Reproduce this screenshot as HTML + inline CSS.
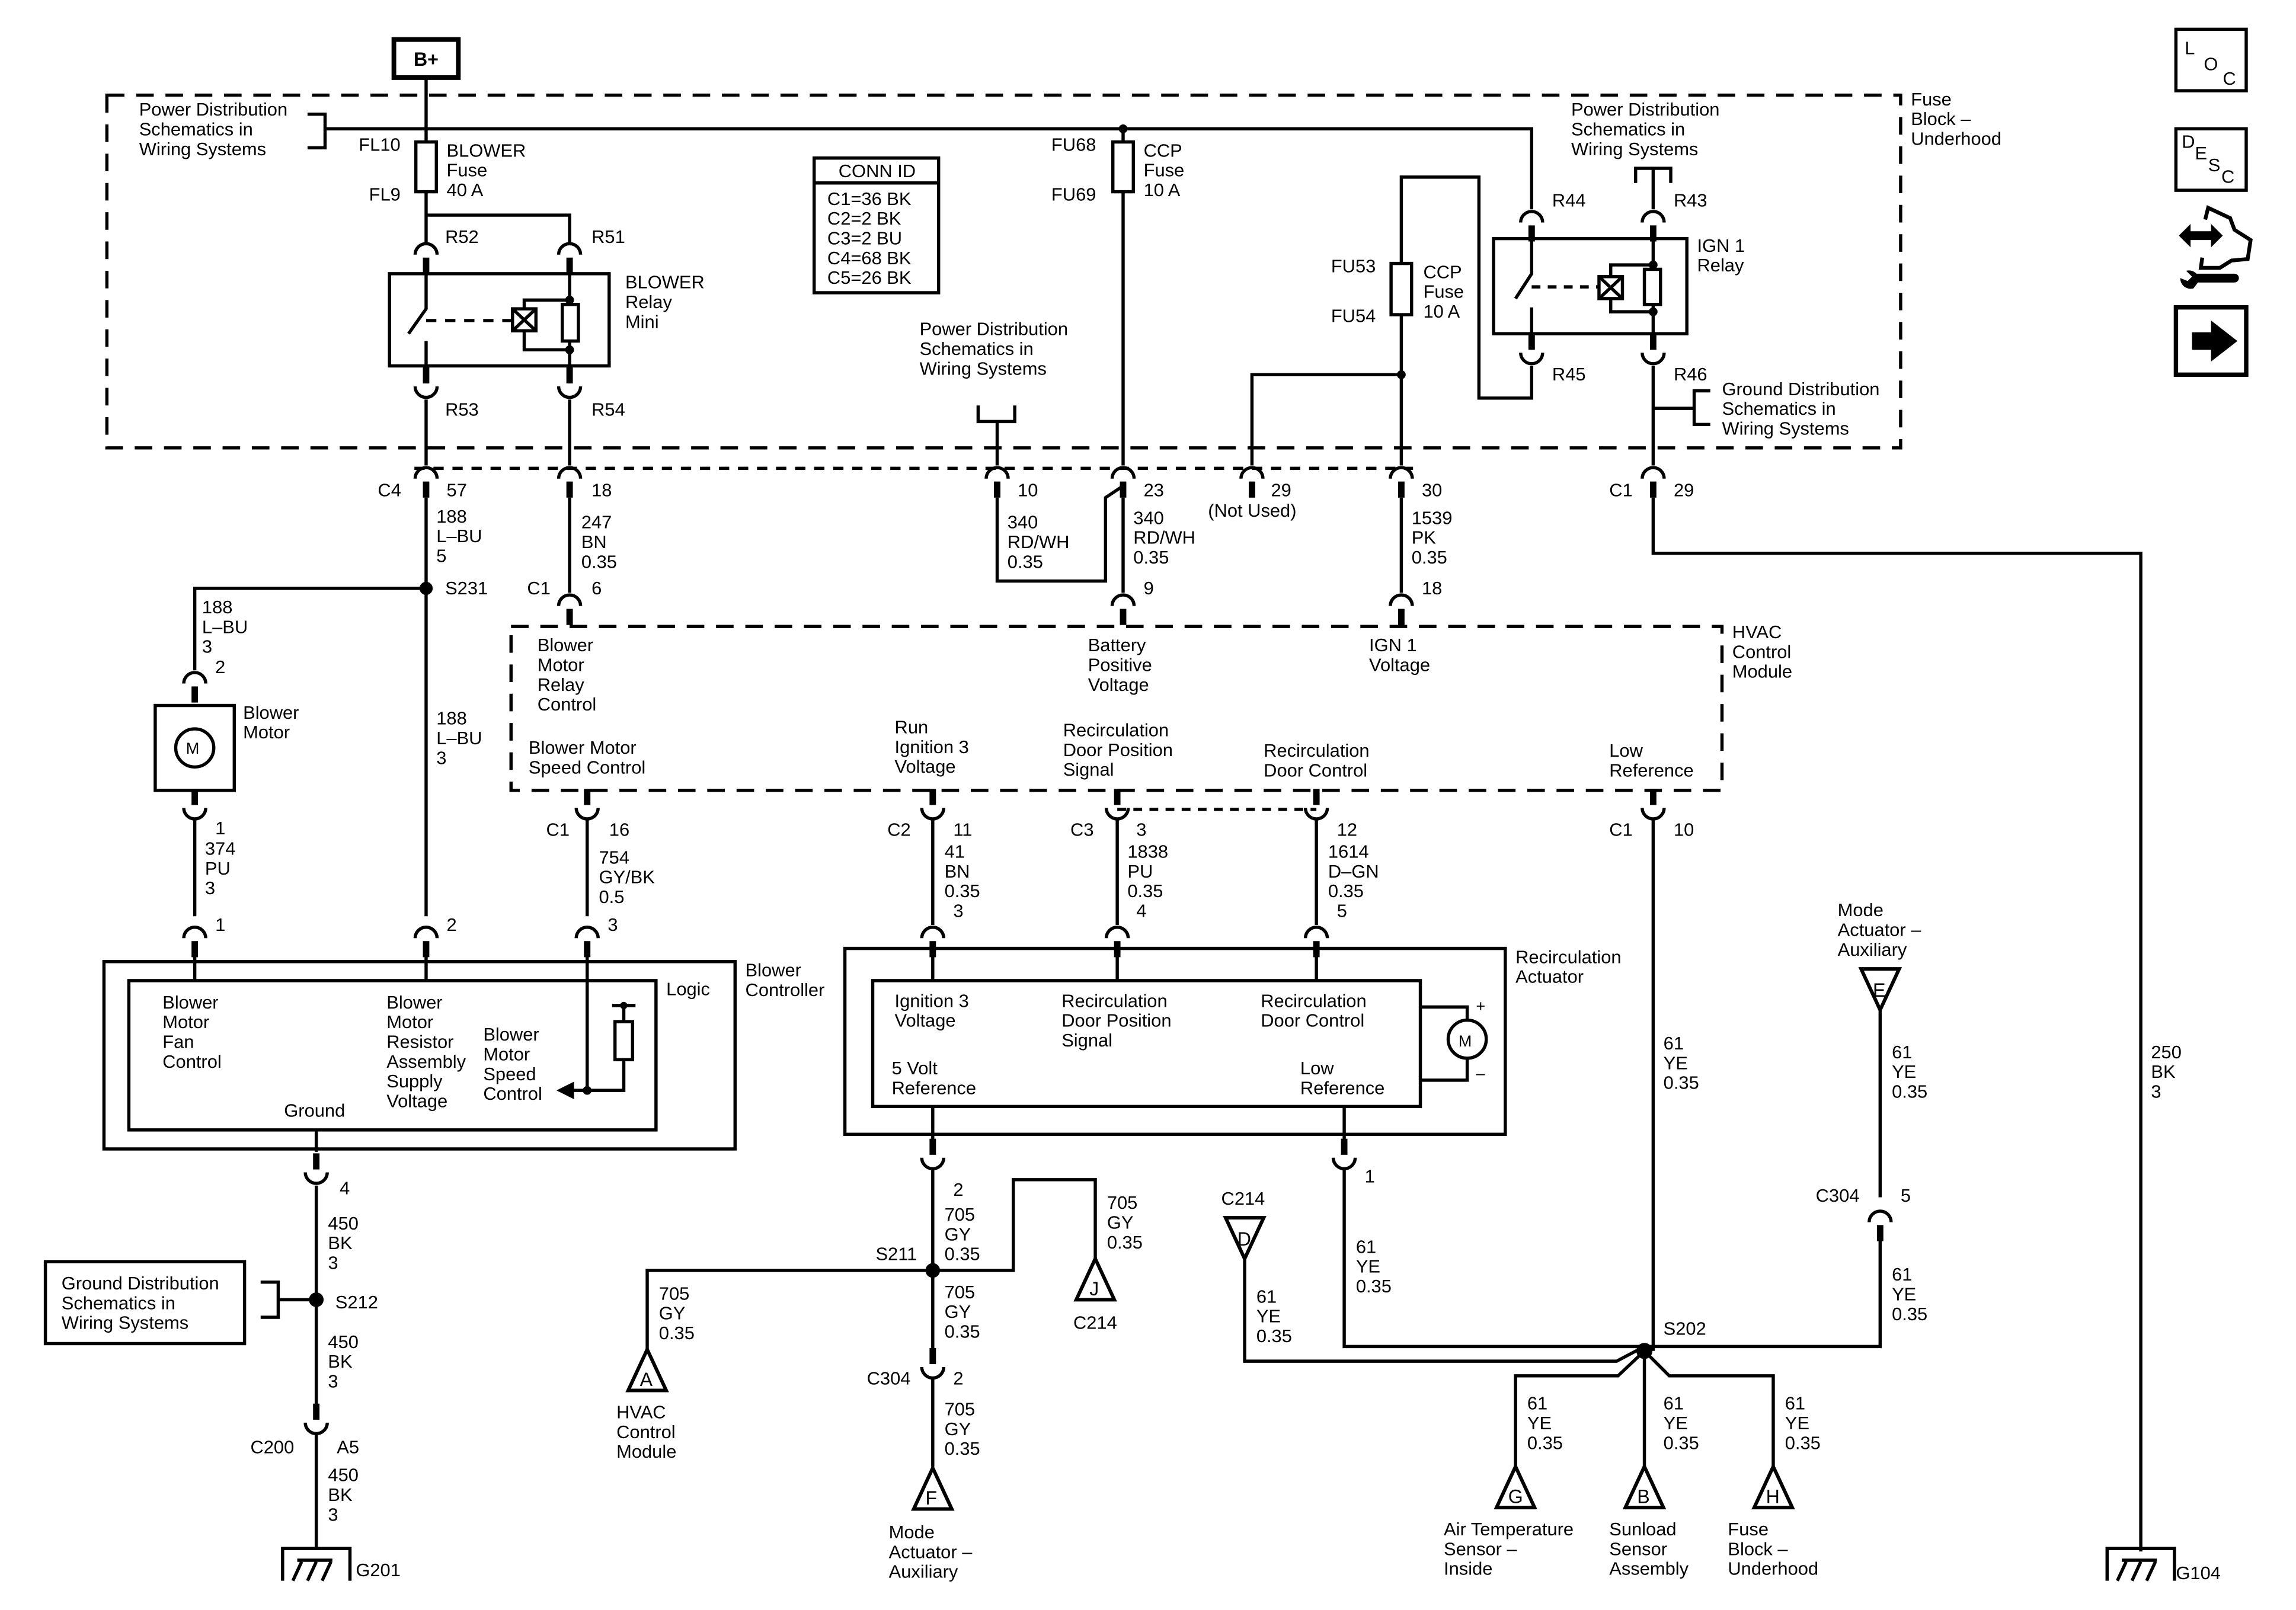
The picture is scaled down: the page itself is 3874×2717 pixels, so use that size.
<!DOCTYPE html>
<html><head><meta charset="utf-8"><style>
html,body{margin:0;padding:0;background:#fff}
svg{display:block}
text{font-family:"Liberation Sans",Arial,sans-serif;font-size:12.5px;fill:#000}
</style></head><body>
<svg width="3874" height="2717" viewBox="0 0 1568 1100" preserveAspectRatio="none" xmlns="http://www.w3.org/2000/svg">
<defs>
<g id="dn"><path d="M-7.5 1 A7.5 7.5 0 0 1 7.5 1" fill="none" stroke="#000" stroke-width="2.2"/><rect x="-2.2" y="3" width="4.4" height="11"/></g>
<g id="up"><path d="M-7.5 -1 A7.5 7.5 0 0 0 7.5 -1" fill="none" stroke="#000" stroke-width="2.2"/><rect x="-2.2" y="-14" width="4.4" height="11"/></g>
<g id="tu"><path d="M0 0 L13 28 L-13 28 Z" fill="#fff" stroke="#000" stroke-width="2.4"/></g>
<g id="td"><path d="M0 0 L13 -28 L-13 -28 Z" fill="#fff" stroke="#000" stroke-width="2.4"/></g>
<g id="gnd"><path d="M-23 22 V0 H23 V22 M-13 8 H11 M-10 9 L-16 22 M0 9 L-6 22 M10 9 L4 22" fill="none" stroke="#000" stroke-width="2.2"/></g>
</defs>
<rect width="1568" height="1100" fill="#fff"/>
<g fill="none" stroke="#000" stroke-width="2.2">
<rect x="73" y="65" width="1225" height="241" stroke-dasharray="12,8"/>
<rect x="269" y="27" width="44" height="26" stroke-width="3.2"/>
<path d="M291 53 V97 M291 131 V167 M291 147 H389 V167"/>
<rect x="284" y="97" width="14" height="34"/>
<path d="M210 78 H222 V101 H210 M222 88 H1046 V143"/>
<rect x="266" y="187" width="150" height="63"/>
<path d="M291 187 V211 L279 228 M291 233 V250" />
<path d="M291 219 H350" stroke-dasharray="7,6"/>
<rect x="350" y="211" width="16" height="15"/>
<path d="M350 211 L366 226 M366 211 L350 226 M358 211 V205 H389 M358 226 V239 H389 M389 187 V250"/>
<rect x="384" y="208" width="11" height="25" fill="#fff"/>
<path d="M291 273 V318 M389 273 V318"/>
<rect x="556" y="108" width="85" height="92"/>
<path d="M556 125 H641"/>
<rect x="760" y="97" width="14" height="34"/>
<path d="M767 88 V97 M767 131 V318"/>
<path d="M668 277 V288 H693 V277 M681 288 V318"/>
<rect x="950" y="180" width="14" height="35"/>
<path d="M957 180 V121 H1010 V272 H1046 V250 M957 215 V318 M957 256 H855 V318"/>
<rect x="1020" y="163" width="132" height="65"/>
<path d="M1046 163 V187 L1035 204 M1046 210 V228" />
<path d="M1046 196 H1092" stroke-dasharray="6,5"/>
<rect x="1092" y="189" width="16" height="15"/>
<path d="M1092 189 L1108 204 M1108 189 L1092 204 M1100 189 V181 H1129 M1100 204 V213 H1129 M1129 163 V228"/>
<rect x="1123" y="184" width="11" height="24" fill="#fff"/>
<path d="M1117 125 V115 H1141 V125 M1129 115 V143"/>
<path d="M1129 250 V318 M1168 267 H1157 V290 H1168 M1129 279 H1157"/>
<path d="M283 320 H965" stroke-dasharray="7,6"/>
<path d="M291 340 V626 M291 402 H133 V458 M389 340 V405 M681 340 V397 H755 V340 L767 332 M767 340 V405 M957 340 V405 M1129 340 V378 H1462 V1060"/>
<rect x="349" y="428" width="827" height="112" stroke-dasharray="12,8"/>
<path d="M763 553 H899" stroke-dasharray="6,5"/>
<rect x="106" y="482" width="54" height="58"/>
<circle cx="133" cy="511" r="13"/>
<path d="M133 560 V626 M401 560 V626 M637 560 V632 M763 560 V632 M899 560 V632 M1129 560 V923"/>
<rect x="71" y="657" width="431" height="128"/>
<rect x="88" y="670" width="360" height="102"/>
<path d="M133 653 V670 M291 653 V670 M401 653 V745 H426 V724 M426 698 V687 M418 687 H434 M401 745 H390"/>
<rect x="420" y="698" width="12" height="26"/>
<path d="M216 772 V787 M216 810 V960 M178 876 H190 V900 H178 M190 888 H216 M216 980 V1058"/>
<rect x="31" y="862" width="136" height="56"/>
<rect x="577" y="648" width="451" height="127"/>
<rect x="596" y="670" width="374" height="86"/>
<path d="M637 653 V670 M763 653 V670 M899 653 V670 M970 688 H1002 V697 M1002 723 V738 H970"/>
<circle cx="1002" cy="710" r="13"/>
<path d="M637 756 V779 M918 756 V779 M637 798 V922 M637 942 V1002 M637 868 H692 V806 H748 V860 M637 868 H442 V922 M918 798 V920 H1123 M850 860 V930 H1104 L1123 920 M1123 923 L1105 940 H1035 V1002 M1123 923 V1002 M1123 923 L1140 940 H1211 V1002 M1284 690 V818 M1284 842 V920 H1123"/>
<rect x="1486" y="20" width="48" height="42"/>
<rect x="1486" y="88" width="48" height="42"/>
<rect x="1486" y="210" width="48" height="46" stroke-width="3"/>
<path d="M1506 150 L1508 142 L1523 149 L1526 157 L1537 164 L1535 177 L1524 178 L1516 183 L1503 183 L1504 176" stroke-width="2.6"/>
</g>
<g>
<path d="M1488 161 L1496 153 V158 H1510 V153 L1518 161 L1510 169 V164 H1496 V169 Z"/>
<path d="M1500 187 H1526 A3 3 0 0 1 1526 193 H1501 L1498 197 A7 7 0 0 1 1489 190 L1494 192 L1497 189 L1493 185 A7 7 0 0 1 1500 187 Z"/>
<path d="M1497 227 H1510 V219 L1528 233 L1510 247 V239 H1497 Z"/>
<circle cx="291" cy="402" r="4.5"/><circle cx="216" cy="888" r="5"/><circle cx="637" cy="868" r="5"/><circle cx="1123" cy="923" r="5.5"/>
<circle cx="767" cy="88" r="3"/><circle cx="957" cy="256" r="3"/><circle cx="389" cy="205" r="3"/><circle cx="389" cy="239" r="3"/><circle cx="1129" cy="181" r="3"/><circle cx="1129" cy="213" r="3"/><circle cx="401" cy="745" r="3"/><circle cx="426" cy="687" r="2.5"/>
<path d="M380 745 L392 739 V751 Z"/>
<use href="#dn" x="291" y="173"/><use href="#dn" x="389" y="173"/>
<use href="#up" x="291" y="265"/><use href="#up" x="389" y="265"/>
<use href="#dn" x="1046" y="151"/><use href="#dn" x="1129" y="151"/>
<use href="#up" x="1046" y="242"/><use href="#up" x="1129" y="242"/>
<use href="#dn" x="291" y="326"/><use href="#dn" x="389" y="326"/><use href="#dn" x="681" y="326"/><use href="#dn" x="767" y="326"/><use href="#dn" x="855" y="326"/><use href="#dn" x="957" y="326"/><use href="#dn" x="1129" y="326"/>
<use href="#dn" x="389" y="413"/><use href="#dn" x="767" y="413"/><use href="#dn" x="957" y="413"/>
<use href="#dn" x="133" y="466"/><use href="#up" x="133" y="553"/>
<use href="#up" x="401" y="553"/><use href="#up" x="637" y="553"/><use href="#up" x="763" y="553"/><use href="#up" x="899" y="553"/><use href="#up" x="1129" y="553"/>
<use href="#dn" x="133" y="640"/><use href="#dn" x="291" y="640"/><use href="#dn" x="401" y="640"/>
<use href="#dn" x="637" y="640"/><use href="#dn" x="763" y="640"/><use href="#dn" x="899" y="640"/>
<use href="#up" x="637" y="792"/><use href="#up" x="918" y="792"/>
<use href="#up" x="216" y="802"/><use href="#up" x="216" y="973"/>
<use href="#up" x="637" y="935"/><use href="#dn" x="1284" y="834"/>
<use href="#tu" x="637" y="1003"/><use href="#tu" x="748" y="860"/><use href="#tu" x="442" y="922"/>
<use href="#tu" x="1035" y="1002"/><use href="#tu" x="1123" y="1002"/><use href="#tu" x="1211" y="1002"/>
<use href="#td" x="850" y="860"/><use href="#td" x="1284" y="690"/>
<use href="#gnd" x="216" y="1058"/><use href="#gnd" x="1462" y="1058"/>
</g>
<g>
<text x="291" y="45" text-anchor="middle" font-weight="bold" style="font-size:13px">B+</text>
<text x="95" y="79">Power Distribution<tspan x="95" dy="13.5">Schematics in</tspan><tspan x="95" dy="13.5">Wiring Systems</tspan></text>
<text x="245" y="103">FL10</text><text x="252" y="137">FL9</text>
<text x="305" y="107">BLOWER<tspan x="305" dy="13.5">Fuse</tspan><tspan x="305" dy="13.5">40 A</tspan></text>
<text x="304" y="166">R52</text><text x="404" y="166">R51</text>
<text x="427" y="197">BLOWER<tspan x="427" dy="13.5">Relay</tspan><tspan x="427" dy="13.5">Mini</tspan></text>
<text x="304" y="284">R53</text><text x="404" y="284">R54</text>
<text x="599" y="121" text-anchor="middle">CONN ID</text>
<text x="565" y="140">C1=36 BK<tspan x="565" dy="13.5">C2=2 BK</tspan><tspan x="565" dy="13.5">C3=2 BU</tspan><tspan x="565" dy="13.5">C4=68 BK</tspan><tspan x="565" dy="13.5">C5=26 BK</tspan></text>
<text x="718" y="103">FU68</text><text x="718" y="137">FU69</text>
<text x="781" y="107">CCP<tspan x="781" dy="13.5">Fuse</tspan><tspan x="781" dy="13.5">10 A</tspan></text>
<text x="628" y="229">Power Distribution<tspan x="628" dy="13.5">Schematics in</tspan><tspan x="628" dy="13.5">Wiring Systems</tspan></text>
<text x="909" y="186">FU53</text><text x="909" y="220">FU54</text>
<text x="972" y="190">CCP<tspan x="972" dy="13.5">Fuse</tspan><tspan x="972" dy="13.5">10 A</tspan></text>
<text x="1073" y="79">Power Distribution<tspan x="1073" dy="13.5">Schematics in</tspan><tspan x="1073" dy="13.5">Wiring Systems</tspan></text>
<text x="1305" y="72">Fuse<tspan x="1305" dy="13.5">Block –</tspan><tspan x="1305" dy="13.5">Underhood</tspan></text>
<text x="1060" y="141">R44</text><text x="1143" y="141">R43</text>
<text x="1159" y="172">IGN 1<tspan x="1159" dy="13.5">Relay</tspan></text>
<text x="1060" y="260">R45</text><text x="1143" y="260">R46</text>
<text x="1176" y="270">Ground Distribution<tspan x="1176" dy="13.5">Schematics in</tspan><tspan x="1176" dy="13.5">Wiring Systems</tspan></text>
<text x="258" y="339">C4</text><text x="305" y="339">57</text><text x="404" y="339">18</text><text x="695" y="339">10</text><text x="781" y="339">23</text><text x="868" y="339">29</text><text x="825" y="353">(Not Used)</text><text x="971" y="339">30</text><text x="1099" y="339">C1</text><text x="1143" y="339">29</text>
<text x="298" y="357">188<tspan x="298" dy="13.5">L–BU</tspan><tspan x="298" dy="13.5">5</tspan></text>
<text x="397" y="361">247<tspan x="397" dy="13.5">BN</tspan><tspan x="397" dy="13.5">0.35</tspan></text>
<text x="688" y="361">340<tspan x="688" dy="13.5">RD/WH</tspan><tspan x="688" dy="13.5">0.35</tspan></text>
<text x="774" y="358">340<tspan x="774" dy="13.5">RD/WH</tspan><tspan x="774" dy="13.5">0.35</tspan></text>
<text x="964" y="358">1539<tspan x="964" dy="13.5">PK</tspan><tspan x="964" dy="13.5">0.35</tspan></text>
<text x="1469" y="723">250<tspan x="1469" dy="13.5">BK</tspan><tspan x="1469" dy="13.5">3</tspan></text>
<text x="304" y="406">S231</text><text x="360" y="406">C1</text><text x="404" y="406">6</text><text x="781" y="406">9</text><text x="971" y="406">18</text>
<text x="138" y="419">188<tspan x="138" dy="13.5">L–BU</tspan><tspan x="138" dy="13.5">3</tspan></text>
<text x="147" y="460">2</text>
<text x="166" y="491">Blower<tspan x="166" dy="13.5">Motor</tspan></text>
<text x="127" y="515" style="font-size:11px">M</text>
<text x="298" y="495">188<tspan x="298" dy="13.5">L–BU</tspan><tspan x="298" dy="13.5">3</tspan></text>
<text x="367" y="445">Blower<tspan x="367" dy="13.5">Motor</tspan><tspan x="367" dy="13.5">Relay</tspan><tspan x="367" dy="13.5">Control</tspan></text>
<text x="743" y="445">Battery<tspan x="743" dy="13.5">Positive</tspan><tspan x="743" dy="13.5">Voltage</tspan></text>
<text x="935" y="445">IGN 1<tspan x="935" dy="13.5">Voltage</tspan></text>
<text x="1183" y="436">HVAC<tspan x="1183" dy="13.5">Control</tspan><tspan x="1183" dy="13.5">Module</tspan></text>
<text x="361" y="515">Blower Motor<tspan x="361" dy="13.5">Speed Control</tspan></text>
<text x="611" y="501">Run<tspan x="611" dy="13.5">Ignition 3</tspan><tspan x="611" dy="13.5">Voltage</tspan></text>
<text x="726" y="503">Recirculation<tspan x="726" dy="13.5">Door Position</tspan><tspan x="726" dy="13.5">Signal</tspan></text>
<text x="863" y="517">Recirculation<tspan x="863" dy="13.5">Door Control</tspan></text>
<text x="1099" y="517">Low<tspan x="1099" dy="13.5">Reference</tspan></text>
<text x="147" y="570">1</text>
<text x="140" y="584">374<tspan x="140" dy="13.5">PU</tspan><tspan x="140" dy="13.5">3</tspan></text>
<text x="373" y="571">C1</text><text x="416" y="571">16</text><text x="606" y="571">C2</text><text x="651" y="571">11</text><text x="731" y="571">C3</text><text x="776" y="571">3</text><text x="913" y="571">12</text><text x="1099" y="571">C1</text><text x="1143" y="571">10</text>
<text x="409" y="590">754<tspan x="409" dy="13.5">GY/BK</tspan><tspan x="409" dy="13.5">0.5</tspan></text>
<text x="645" y="586">41<tspan x="645" dy="13.5">BN</tspan><tspan x="645" dy="13.5">0.35</tspan><tspan x="651" dy="13.5">3</tspan></text>
<text x="770" y="586">1838<tspan x="770" dy="13.5">PU</tspan><tspan x="770" dy="13.5">0.35</tspan><tspan x="776" dy="13.5">4</tspan></text>
<text x="907" y="586">1614<tspan x="907" dy="13.5">D–GN</tspan><tspan x="907" dy="13.5">0.35</tspan><tspan x="913" dy="13.5">5</tspan></text>
<text x="147" y="636">1</text><text x="305" y="636">2</text><text x="415" y="636">3</text>
<text x="111" y="689">Blower<tspan x="111" dy="13.5">Motor</tspan><tspan x="111" dy="13.5">Fan</tspan><tspan x="111" dy="13.5">Control</tspan></text>
<text x="264" y="689">Blower<tspan x="264" dy="13.5">Motor</tspan><tspan x="264" dy="13.5">Resistor</tspan><tspan x="264" dy="13.5">Assembly</tspan><tspan x="264" dy="13.5">Supply</tspan><tspan x="264" dy="13.5">Voltage</tspan></text>
<text x="330" y="711">Blower<tspan x="330" dy="13.5">Motor</tspan><tspan x="330" dy="13.5">Speed</tspan><tspan x="330" dy="13.5">Control</tspan></text>
<text x="194" y="763">Ground</text>
<text x="455" y="680">Logic</text>
<text x="509" y="667">Blower<tspan x="509" dy="13.5">Controller</tspan></text>
<text x="1255" y="626">Mode<tspan x="1255" dy="13.5">Actuator –</tspan><tspan x="1255" dy="13.5">Auxiliary</tspan></text>
<text x="1035" y="658">Recirculation<tspan x="1035" dy="13.5">Actuator</tspan></text>
<text x="611" y="688">Ignition 3<tspan x="611" dy="13.5">Voltage</tspan></text>
<text x="725" y="688">Recirculation<tspan x="725" dy="13.5">Door Position</tspan><tspan x="725" dy="13.5">Signal</tspan></text>
<text x="861" y="688">Recirculation<tspan x="861" dy="13.5">Door Control</tspan></text>
<text x="609" y="734">5 Volt<tspan x="609" dy="13.5">Reference</tspan></text>
<text x="888" y="734">Low<tspan x="888" dy="13.5">Reference</tspan></text>
<text x="1008" y="691" style="font-size:11px">+</text><text x="1008" y="737" style="font-size:11px">–</text>
<text x="996" y="715" style="font-size:11px">M</text>
<text x="1136" y="717">61<tspan x="1136" dy="13.5">YE</tspan><tspan x="1136" dy="13.5">0.35</tspan></text>
<text x="1292" y="723">61<tspan x="1292" dy="13.5">YE</tspan><tspan x="1292" dy="13.5">0.35</tspan></text>
<text x="1279" y="681" style="font-size:13px">E</text>
<text x="232" y="816">4</text><text x="651" y="817">2</text><text x="932" y="808">1</text>
<text x="224" y="840">450<tspan x="224" dy="13.5">BK</tspan><tspan x="224" dy="13.5">3</tspan></text>
<text x="645" y="834">705<tspan x="645" dy="13.5">GY</tspan><tspan x="645" dy="13.5">0.35</tspan></text>
<text x="756" y="826">705<tspan x="756" dy="13.5">GY</tspan><tspan x="756" dy="13.5">0.35</tspan></text>
<text x="834" y="823">C214</text><text x="1240" y="821">C304</text><text x="1298" y="821">5</text>
<text x="845" y="851" style="font-size:13px">D</text>
<text x="926" y="856">61<tspan x="926" dy="13.5">YE</tspan><tspan x="926" dy="13.5">0.35</tspan></text>
<text x="858" y="890">61<tspan x="858" dy="13.5">YE</tspan><tspan x="858" dy="13.5">0.35</tspan></text>
<text x="1292" y="875">61<tspan x="1292" dy="13.5">YE</tspan><tspan x="1292" dy="13.5">0.35</tspan></text>
<text x="42" y="881">Ground Distribution<tspan x="42" dy="13.5">Schematics in</tspan><tspan x="42" dy="13.5">Wiring Systems</tspan></text>
<text x="229" y="894">S212</text><text x="598" y="861">S211</text><text x="1136" y="912">S202</text>
<text x="744" y="885" style="font-size:13px">J</text><text x="733" y="908">C214</text>
<text x="450" y="888">705<tspan x="450" dy="13.5">GY</tspan><tspan x="450" dy="13.5">0.35</tspan></text>
<text x="645" y="887">705<tspan x="645" dy="13.5">GY</tspan><tspan x="645" dy="13.5">0.35</tspan></text>
<text x="224" y="921">450<tspan x="224" dy="13.5">BK</tspan><tspan x="224" dy="13.5">3</tspan></text>
<text x="437" y="947" style="font-size:13px">A</text>
<text x="592" y="946">C304</text><text x="651" y="946">2</text>
<text x="421" y="969">HVAC<tspan x="421" dy="13.5">Control</tspan><tspan x="421" dy="13.5">Module</tspan></text>
<text x="1043" y="963">61<tspan x="1043" dy="13.5">YE</tspan><tspan x="1043" dy="13.5">0.35</tspan></text>
<text x="1136" y="963">61<tspan x="1136" dy="13.5">YE</tspan><tspan x="1136" dy="13.5">0.35</tspan></text>
<text x="1219" y="963">61<tspan x="1219" dy="13.5">YE</tspan><tspan x="1219" dy="13.5">0.35</tspan></text>
<text x="645" y="967">705<tspan x="645" dy="13.5">GY</tspan><tspan x="645" dy="13.5">0.35</tspan></text>
<text x="171" y="993">C200</text><text x="230" y="993">A5</text>
<text x="224" y="1012">450<tspan x="224" dy="13.5">BK</tspan><tspan x="224" dy="13.5">3</tspan></text>
<text x="632" y="1028" style="font-size:13px">F</text>
<text x="1030" y="1027" style="font-size:13px">G</text><text x="1118" y="1027" style="font-size:13px">B</text><text x="1206" y="1027" style="font-size:13px">H</text>
<text x="607" y="1051">Mode<tspan x="607" dy="13.5">Actuator –</tspan><tspan x="607" dy="13.5">Auxiliary</tspan></text>
<text x="986" y="1049">Air Temperature<tspan x="986" dy="13.5">Sensor –</tspan><tspan x="986" dy="13.5">Inside</tspan></text>
<text x="1099" y="1049">Sunload<tspan x="1099" dy="13.5">Sensor</tspan><tspan x="1099" dy="13.5">Assembly</tspan></text>
<text x="1180" y="1049">Fuse<tspan x="1180" dy="13.5">Block –</tspan><tspan x="1180" dy="13.5">Underhood</tspan></text>
<text x="243" y="1077">G201</text><text x="1486" y="1079">G104</text>
<text x="1492" y="37">L</text><text x="1505" y="48">O</text><text x="1518" y="58">C</text>
<text x="1490" y="101">D</text><text x="1499" y="109">E</text><text x="1508" y="117">S</text><text x="1517" y="125">C</text>
</g>
</svg>
</body></html>
